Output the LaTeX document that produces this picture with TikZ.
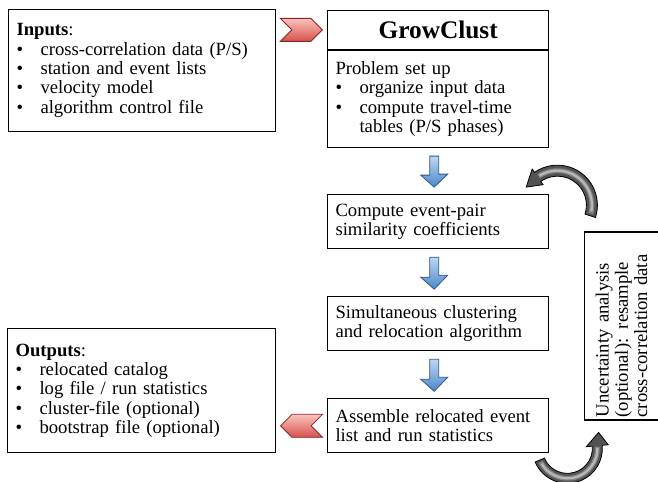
\documentclass[tikz,border=0pt]{standalone}
\usepackage{fontspec}
\setmainfont{Liberation Serif}
\usetikzlibrary{positioning,calc,shapes.symbols}

\definecolor{chevtop}{RGB}{250,195,190}
\definecolor{chevbot}{RGB}{215,80,75}
\definecolor{chevline}{RGB}{140,35,35}
\definecolor{arrtop}{RGB}{190,215,242}
\definecolor{arrbot}{RGB}{75,135,200}
\definecolor{arrline}{RGB}{45,85,145}

\newcommand{\itm}[1]{\makebox[18pt][l]{\textbullet}#1}
\newcommand{\flowarrow}[2]{%
  \shade[top color=arrtop, bottom color=arrbot, draw=arrline, line width=0.6pt]
    ($(#1.south)+(-8.5,8)$) -- ++(9,0) -- ++(0,18) -- ++(9,0)
    -- ($(#2.north)+(-4,-7)$) -- ++(-13.5,-12) -- ++(9,0) -- cycle;}

\tikzset{
  txt/.style={font=\fontsize{14}{14.5}\selectfont},
  box/.style={txt, draw, line width=0.8pt, align=left, inner xsep=6pt, inner ysep=3pt},
  stepbox/.style={box, text width=154pt, minimum height=40.5pt},
  chevron/.style={shape=signal, draw=chevline, line width=0.6pt, top color=chevtop,
    bottom color=chevbot, minimum width=31.5pt, minimum height=17.25pt, inner sep=0pt},
  curl/.style={fill=black!68, draw=black, line width=0.6pt},
  shine/.style={black!48, line width=3.6pt},
  shinein/.style={black!28, line width=1.6pt}
}

\begin{document}
\begin{tikzpicture}[x=0.75pt, y=-0.75pt]
    \useasboundingbox (0,0) rectangle (658,482);

    \node[box, anchor=north west, text width=188pt, minimum height=91.5pt] (inputs) at (8,9)
      {\textbf{Inputs}:\\ \itm{cross-correlation data (P/S)}\\ \itm{station and event lists}\\
       \itm{velocity model}\\ \itm{algorithm control file}};

    \node[box, anchor=north west, text width=154pt, minimum height=29pt, align=center,
      font=\fontsize{19}{22}\selectfont\bfseries] (growtitle) at (327,10) {GrowClust};
    \node[stepbox, below=0pt of growtitle, minimum height=73pt] (growbody)
      {Problem set up\\ \itm{organize input data}\\ \itm{compute travel-time}\\
       \hspace*{18pt}tables (P/S phases)};

    \node[stepbox, below=34.5pt of growbody] (compute) {Compute event-pair\\similarity coefficients};
    \node[stepbox, below=35.25pt of compute] (simult) {Simultaneous clustering\\and relocation algorithm};
    \node[stepbox, below=35.25pt of simult] (assemble) {Assemble relocated event\\list and run statistics};

    \node[box, anchor=north west, text width=189pt, minimum height=93pt] (outputs) at (7,328)
      {\textbf{Outputs}:\\ \itm{relocated catalog}\\ \itm{log file / run statistics}\\
       \itm{cluster-file (optional)}\\ \itm{bootstrap file (optional)}};

    \node[box, rotate=90, inner xsep=2pt, text width=137pt, minimum height=55.5pt] (unc) at (621.5,326)
      {Uncertainty analysis\\(optional): resample\\cross-correlation data};

    \node[chevron, signal to=east, signal from=west] (inarrow)
      at ($(inputs.east |- growtitle.west)!0.5!(growtitle.west)$) {};
    \node[chevron, signal to=west, signal from=east] (outarrow)
      at ($(outputs.east |- assemble.west)!0.5!(assemble.west)$) {};

    \flowarrow{growbody}{compute}
    \flowarrow{compute}{simult}
    \flowarrow{simult}{assemble}

    \coordinate (ctop) at ($(compute.north east)+(8,11)$);
    \coordinate (cbot) at ($(assemble.south east)+(18,-5)$);

    \path[curl] ($(ctop)+(18:40)$) arc[start angle=18, end angle=-125, radius=40]
      -- ($(ctop)+(-125:44)$) -- ($(ctop)+(-150:36)$) -- ($(ctop)+(-125:25)$)
      -- ($(ctop)+(-125:29)$) arc[start angle=-125, end angle=18, radius=29] -- cycle;
    \draw[shine] ($(ctop)+(14:34.5)$) arc[start angle=14, end angle=-123, radius=34.5];
    \draw[shinein] ($(ctop)+(10:34.5)$) arc[start angle=10, end angle=-121, radius=34.5];

    \path[curl] ($(cbot)+(157:35)$) arc[start angle=157, end angle=-5, radius=35]
      -- ($(cbot)+(-5:41)$) -- ($(cbot)+(-27:35)$) -- ($(cbot)+(-5:19)$)
      -- ($(cbot)+(-5:25)$) arc[start angle=-5, end angle=157, radius=25] -- cycle;
    \draw[shine] ($(cbot)+(153:30)$) arc[start angle=153, end angle=-3, radius=30];
    \draw[shinein] ($(cbot)+(149:30)$) arc[start angle=149, end angle=-1, radius=30];
\end{tikzpicture}
\end{document}
